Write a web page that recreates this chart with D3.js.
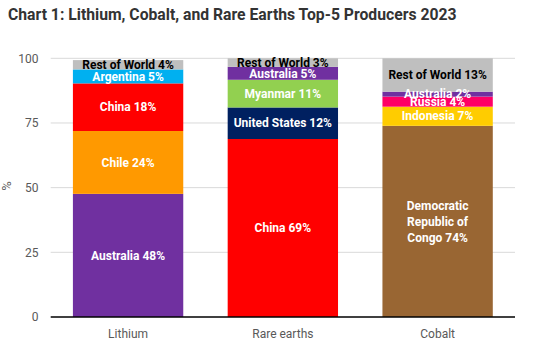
<!DOCTYPE html>
<html><head><meta charset="utf-8">
<script src="https://cdn.jsdelivr.net/npm/d3@7"></script>
<style>body{margin:0;background:#fff}svg{display:block}</style>
</head><body>
<svg id="c" width="556" height="349"></svg>
<script>
const categories = ["Lithium", "Rare earths", "Cobalt"];
const lithiumProducers = ["Australia", "Chile", "China", "Argentina", "Rest of World"];
const lithiumValues = [47.6, 24.3, 18.4, 5.4, 3.6];
const rareEarthProducers = ["China", "United States", "Myanmar", "Australia", "Rest of World"];
const rareEarthValues = [68.8, 12.2, 10.7, 5.0, 3.3];
const cobaltProducers = ["Democratic Republic of Congo", "Indonesia", "Russia", "Australia", "Rest of World"];
const cobaltValues = [73.9, 7.4, 3.9, 1.9, 12.9];
const yTicks = [0, 25, 50, 75, 100];
const title = "Chart 1: Lithium, Cobalt, and Rare Earths Top-5 Producers 2023";

const colors = {
  "Australia": "#7030A0", "Chile": "#FF9900", "China": "#FF0000", "Argentina": "#00B0F0",
  "Rest of World": "#BFBFBF", "United States": "#002060", "Myanmar": "#92D050",
  "Democratic Republic of Congo": "#996633", "Indonesia": "#FFCC00", "Russia": "#FF0066"
};
const darkText = new Set(["Rest of World"]);
const lineBreaks = {"Democratic Republic of Congo": ["Democratic", "Republic of", "Congo"]};

const series = [
  {cat: "Lithium", names: lithiumProducers, vals: lithiumValues},
  {cat: "Rare earths", names: rareEarthProducers, vals: rareEarthValues},
  {cat: "Cobalt", names: cobaltProducers, vals: cobaltValues}
];

const svg = d3.select("#c");
const x = d3.scaleBand().domain(categories).range([50.7, 515]).paddingInner(0.287).paddingOuter(0.1435);
const y = d3.scaleLinear().domain([0, 100]).range([317, 58.3]);

// title
const t = svg.append("text").attr("x", 8).attr("y", 20)
  .attr("font-family", "Roboto, sans-serif").attr("font-weight", "bold")
  .attr("font-size", 16).attr("fill", "#333").text(title);
const tw = t.node().getComputedTextLength();
t.attr("font-size", 16 * 449 / tw);

// gridlines
svg.append("g").selectAll("line").data(yTicks.filter(d => d > 0)).join("line")
  .attr("x1", 50.7).attr("x2", 515).attr("y1", d => y(d)).attr("y2", d => y(d))
  .attr("stroke", "#d9d9d9").attr("stroke-width", 1);

// y axis labels
const yAxis = d3.axisLeft(y).tickValues(yTicks).tickSize(0).tickPadding(0);
const ya = svg.append("g").attr("transform", "translate(38.5,0)").call(yAxis);
ya.select(".domain").remove();
ya.selectAll("text").attr("font-family", "Roboto, sans-serif").attr("font-size", 12).attr("fill", "#595959");

svg.append("text").attr("transform", "translate(11,186) rotate(-90)")
  .attr("text-anchor", "middle").attr("font-family", "Roboto, sans-serif")
  .attr("font-size", 13).attr("fill", "#595959").text("%");

// bars
series.forEach(s => {
  let acc = 0;
  const segs = s.names.map((n, i) => { const seg = {name: n, y0: acc, y1: acc + s.vals[i], v: s.vals[i]}; acc += s.vals[i]; return seg; });
  const g = svg.append("g");
  g.selectAll("rect").data(segs).join("rect")
    .attr("x", x(s.cat)).attr("width", x.bandwidth())
    .attr("y", d => y(d.y1)).attr("height", d => y(d.y0) - y(d.y1))
    .attr("fill", d => colors[d.name]);
  s.segs = segs;
});

// x axis baseline
svg.append("line").attr("x1", 50.7).attr("x2", 515).attr("y1", y(0)).attr("y2", y(0))
  .attr("stroke", "#000").attr("stroke-width", 1.5);

// labels
series.forEach(s => {
  const cx = x(s.cat) + x.bandwidth() / 2;
  s.segs.forEach(d => {
    const label = d.name + " " + Math.round(d.v) + "%";
    let lines = [label];
    if (lineBreaks[d.name]) { lines = lineBreaks[d.name].slice(); lines[lines.length - 1] += " " + Math.round(d.v) + "%"; }
    const cy = (y(d.y0) + y(d.y1)) / 2;
    const lh = 16;
    const txt = svg.append("text").attr("text-anchor", "middle")
      .attr("font-family", "Roboto, sans-serif").attr("font-weight", "bold").attr("font-size", 12)
      .attr("fill", darkText.has(d.name) ? "#000" : "#fff");
    lines.forEach((l, i) => {
      txt.append("tspan").attr("x", cx).attr("y", cy + (i - (lines.length - 1) / 2) * lh)
        .attr("dy", "0.35em").text(l);
    });
  });
});

// category labels
const xAxis = d3.axisBottom(x).tickSize(0).tickPadding(0);
const xa = svg.append("g").attr("transform", "translate(0,329)").call(xAxis);
xa.select(".domain").remove();
xa.selectAll("text").attr("font-family", "Roboto, sans-serif").attr("font-size", 12).attr("fill", "#595959");
</script>
</body></html>
